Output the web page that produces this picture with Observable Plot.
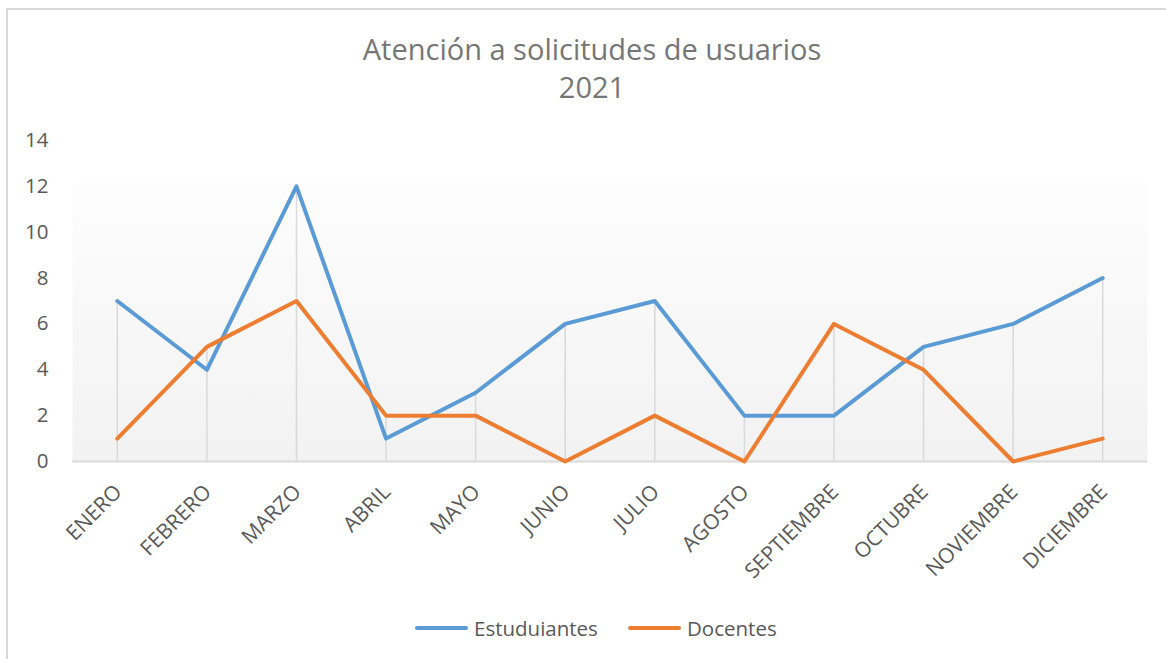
<!DOCTYPE html>
<html>
<head>
<meta charset="utf-8">
<script src="https://cdn.jsdelivr.net/npm/d3@7"></script>
<script src="https://cdn.jsdelivr.net/npm/@observablehq/plot@0.6"></script>
<style>
  html, body { margin:0; padding:0; background:#fff; overflow:hidden; }
  #wrap { position:relative; width:1166px; height:659px; overflow:hidden; font-family:"Open Sans", sans-serif; }
  #border { position:absolute; left:6px; top:8px; width:1300px; height:800px; border:2px solid #d9d9d9; box-sizing:border-box; }
  .title { position:absolute; left:0; width:1184px; text-align:center; color:#767676; font-size:29px; line-height:1; white-space:nowrap; }
  #chart { position:absolute; left:0; top:110px; }
  #legend { position:absolute; top:614px; left:0; width:1166px; height:28px; }
  .lg { position:absolute; top:0; display:flex; align-items:center; height:28px; color:#595959; font-size:20.5px; }
  .sw { display:inline-block; width:53px; height:4px; border-radius:2px; margin-right:6px; }
</style>
</head>
<body>
<div id="wrap">
  <div id="border"></div>
  <div class="title" id="t1" style="top:34px;"></div>
  <div class="title" id="t2" style="top:72px;"></div>
  <div id="chart"></div>
  <div id="legend"></div>
</div>
<script>
const titleLines = ["Atención a solicitudes de usuarios", "2021"];
const months = ["ENERO","FEBRERO","MARZO","ABRIL","MAYO","JUNIO","JULIO","AGOSTO","SEPTIEMBRE","OCTUBRE","NOVIEMBRE","DICIEMBRE"];
const estudiantes = [7,4,12,1,3,6,7,2,2,5,6,8];
const docentes = [1,5,7,2,2,0,2,0,6,4,0,1];
const yTicks = [0,2,4,6,8,10,12,14];
const seriesNames = ["Estuduiantes","Docentes"];
const seriesColors = ["#5b9bd5","#ed7d31"];

document.getElementById("t1").textContent = titleLines[0];
document.getElementById("t2").textContent = titleLines[1];

const rows = months.map((m, i) => ({month: m, est: estudiantes[i], doc: docentes[i]}));

const plot = Plot.plot({
  width: 1166,
  height: 490,
  marginTop: 30,
  marginBottom: 139,
  marginLeft: 72,
  marginRight: 19,
  style: {fontFamily: "'Open Sans', sans-serif", fontSize: "20px", color: "#595959", background: "transparent", overflow: "visible"},
  x: {type: "point", domain: months, padding: 0.5, round: false, axis: null},
  y: {domain: [0, 14], axis: null},
  marks: [
    Plot.frame({fill: "url(#plotbg)", stroke: null}),
    Plot.axisY({ticks: yTicks, tickSize: 0, tickPadding: 24, fontSize: 20.5, fill: "#595959"}),
    Plot.ruleX(rows, {x: "month", y1: 0, y2: d => Math.max(d.est, d.doc), stroke: "#d9d9d9", strokeWidth: 1.5}),
    Plot.ruleY([0], {stroke: "#d9d9d9", strokeWidth: 2}),
    Plot.lineY(rows, {x: "month", y: "est", stroke: seriesColors[0], strokeWidth: 4, strokeLinejoin: "round", strokeLinecap: "round"}),
    Plot.lineY(rows, {x: "month", y: "doc", stroke: seriesColors[1], strokeWidth: 4, strokeLinejoin: "round", strokeLinecap: "round"}),
    Plot.text(months, {x: d => d, frameAnchor: "bottom", dx: 1, dy: 27, rotate: -45, textAnchor: "end", lineAnchor: "middle", fontSize: 21, fill: "#595959"})
  ]
});

// gradient background for plot area
const ns = "http://www.w3.org/2000/svg";
const defs = document.createElementNS(ns, "defs");
const grad = document.createElementNS(ns, "linearGradient");
grad.setAttribute("id", "plotbg");
grad.setAttribute("x1", "0"); grad.setAttribute("y1", "0");
grad.setAttribute("x2", "0"); grad.setAttribute("y2", "1");
[["0", "#ffffff"], ["0.13", "#ffffff"], ["0.14", "#fdfdfd"], ["1", "#f2f2f2"]].forEach(([o, c]) => {
  const s = document.createElementNS(ns, "stop");
  s.setAttribute("offset", o); s.setAttribute("stop-color", c);
  grad.appendChild(s);
});
defs.appendChild(grad);
plot.insertBefore(defs, plot.firstChild);
document.getElementById("chart").appendChild(plot);

// legend
const legend = document.getElementById("legend");
const legendX = [415, 628];
seriesNames.forEach((name, i) => {
  const item = document.createElement("div");
  item.className = "lg";
  item.style.left = legendX[i] + "px";
  const sw = document.createElement("span");
  sw.className = "sw";
  sw.style.background = seriesColors[i];
  const t = document.createElement("span");
  t.textContent = name;
  item.appendChild(sw); item.appendChild(t);
  legend.appendChild(item);
});
</script>
</body>
</html>
